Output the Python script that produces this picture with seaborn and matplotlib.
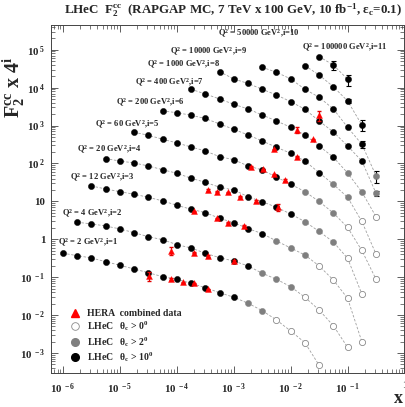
import numpy as np
import pandas as pd
import matplotlib
matplotlib.use("Agg")
import matplotlib.pyplot as plt
import seaborn as sns
from matplotlib.lines import Line2D
from matplotlib.ticker import FixedLocator, LogLocator, NullFormatter, FuncFormatter

sns.set_theme(style="ticks")
plt.rcParams['font.family'] = ['Liberation Serif', 'DejaVu Serif']
plt.rcParams['font.weight'] = 'bold'
plt.rcParams['mathtext.default'] = 'regular'
plt.rcParams['mathtext.fontset'] = 'custom'
plt.rcParams['mathtext.rm'] = 'Liberation Serif:bold'
plt.rcParams['mathtext.bf'] = 'Liberation Serif:bold'
plt.rcParams['mathtext.it'] = 'Liberation Serif:bold:italic'

# ---------------- data ----------------
X_GRID = [1.0e-6, 1.78e-6, 3.16e-6, 5.62e-6, 1.0e-5, 1.78e-5, 3.16e-5, 5.62e-5,
          1.0e-4, 1.78e-4, 3.16e-4, 5.62e-4, 1.0e-3, 1.78e-3, 3.16e-3, 5.62e-3,
          1.0e-2, 1.78e-2, 3.16e-2, 5.62e-2, 0.1, 0.178, 0.316]

Q2 = [2, 4, 12, 20, 60, 200, 400, 1000, 10000, 50000, 100000]
START = [0, 1, 2, 3, 5, 7, 9, 11, 14, 17, 18]      # first x-grid index of each series
N_BLACK = [13, 13, 13, 14, 12, 12, 11, 11, 8, 5, 3]  # theta_c > 10 deg
N_GREY = [2, 3, 3, 3, 3, 2, 2, 1, 1, 0, 0]           # theta_c > 2 deg

F2_1 = [0.428, 0.369, 0.321, 0.256, 0.206, 0.164, 0.131, 0.103, 0.0881, 0.069,
        0.0528, 0.039, 0.0295, 0.0205, 0.0131, 0.00743, 0.0038, 0.00187, 0.000473]
F2_2 = [2.81, 2.54, 2.24, 1.87, 1.49, 1.17, 0.975, 0.721, 0.589, 0.428,
        0.327, 0.267, 0.198, 0.127, 0.0881, 0.0561, 0.0295, 0.0136, 0.00525, 0.00141]
F2_3 = [25.5, 21.2, 18.0, 15.4, 12.8, 10.3, 7.89, 6.19, 5.04, 3.58,
        2.74, 1.91, 1.41, 0.902, 0.589, 0.385, 0.198, 0.0843, 0.0277, 0.00199]
F2_4 = [134, 116, 103, 85.9, 68.5, 55.1, 40.7, 31.9, 23.6, 20.0,
        13.3, 9.82, 6.98, 4.66, 2.91, 1.61, 0.849, 0.315, 0.0361]
F2_5 = [665, 555, 436, 348, 272, 214, 151, 126, 85.9, 67.5,
        43.6, 28.4, 18.0, 9.93, 4.94, 2.05, 0.506, 0.0881]
F2_6 = [2427, 2188, 1871, 1538, 1102, 798, 565, 393, 267, 186,
        116, 57.1, 28.2, 12.8, 2.95, 0.405]
F2_7 = [9078, 6823, 5035, 3648, 2742, 1905, 1321, 902, 565, 290,
        146, 56.1, 17.7, 3.94]
F2_8 = [26400, 17000, 12900, 9080, 6410, 4276, 2692, 1321, 678, 290, 116, 16.4]
F2_9 = [34500, 25500, 17000, 9080, 5585, 2742, 902, 321, 47.6]
F2_10 = [38000, 21600, 10600, 4457, 1038]
F2_11 = [65800, 39700, 16700]
F2_ALL = [F2_1, F2_2, F2_3, F2_4, F2_5, F2_6, F2_7, F2_8, F2_9, F2_10, F2_11]

# LHeC points that carry visible error bars
ERR_Q2 = [100000, 100000, 50000, 50000, 10000, 10000, 1000]
ERR_X = [0.0562, 0.1, 0.1, 0.178, 0.178, 0.316, 0.316]
ERR_VAL = [10000, 5500, 450, 330, 60, 17, 2.6]

# HERA combined data
HERA_X = [3.2e-5, 8e-5, 1.3e-4, 2e-4, 3.5e-4,
          8e-5, 2e-4, 3.5e-4, 1e-3,
          2e-4, 5e-4, 8e-4, 1.5e-3,
          3.5e-4, 5e-4, 8e-4, 1.3e-3, 2.5e-3, 6e-3,
          2e-3, 3.2e-3, 5e-3, 8e-3,
          5e-3, 0.013,
          0.013, 0.025,
          0.032]
HERA_F2 = [0.108, 0.0897, 0.0733, 0.069, 0.048,
           0.5, 0.443, 0.362, 0.267,
           5.48, 3.58, 2.74, 2.3,
           20, 18, 17.4, 13.3, 10.2, 7.0,
           82.4, 70.3, 51.9, 36.7,
           237, 151,
           766, 436,
           1905]
HERA_ERR = [0.027, 0.003, 0.002, 0.002, 0.002,
            0.12, 0.015, 0.012, 0.01,
            0.2, 0.12, 0.1, 0.08,
            0.7, 0.6, 0.6, 0.45, 0.35, 1.3,
            2.7, 2.3, 1.7, 1.2,
            8, 5,
            140, 15,
            570]

# label placement (data coords, left edge)
LABEL_X = [8.2e-7, 9.6e-7, 1.33e-6, 1.76e-6, 3.65e-6, 8.5e-6, 1.84e-5, 2.99e-5,
           7.6e-5, 5.3e-4, 1.58e-2]
LABEL_Y = [0.8, 4.64, 41.4, 227, 1038, 3945, 13300, 39700, 87500, 261000, 111000]

# ---------------- build table ----------------
rows = []
for si, (q, st, nb, ng, vals) in enumerate(zip(Q2, START, N_BLACK, N_GREY, F2_ALL)):
    for j, v in enumerate(vals):
        if j < nb:
            cat = "black"
        elif j < nb + ng:
            cat = "grey"
        else:
            cat = "open"
        rows.append(dict(series=si + 1, Q2=q, x=X_GRID[st + j], F2=v, cat=cat))
df = pd.DataFrame(rows)
hera = pd.DataFrame(dict(x=HERA_X, F2=HERA_F2, err=HERA_ERR))

# ---------------- figure ----------------
fig = plt.figure(figsize=(4.06, 4.07), dpi=100)
ax = fig.add_axes([51 / 406, 34 / 407, 353.5 / 406, 348 / 407])
ax.set_xscale("log")
ax.set_yscale("log")

sns.lineplot(data=df, x="x", y="F2", units="series", estimator=None, sort=True,
             color="#a0a0a0", linestyle=(0, (3, 2)), linewidth=0.6, ax=ax, legend=False)

# error bars of LHeC points
for q, xv, e in zip(ERR_Q2, ERR_X, ERR_VAL):
    sel = df[(df.Q2 == q) & (np.isclose(df.x, xv))]
    for _, r in sel.iterrows():
        ax.errorbar(r.x, r.F2, yerr=min(e, 0.9 * r.F2), fmt="none", ecolor="black",
                    elinewidth=0.8, capsize=1.8, capthick=0.8, zorder=3)

MS = 20
sns.scatterplot(data=df[df.cat == "open"], x="x", y="F2", marker="o", s=MS,
                color="white", edgecolor="#8a8a8a", linewidth=0.6, ax=ax, zorder=4)
sns.scatterplot(data=df[df.cat == "grey"], x="x", y="F2", marker="o", s=MS,
                color="#7f7f7f", edgecolor="#7f7f7f", linewidth=0.3, ax=ax, zorder=4)
sns.scatterplot(data=df[df.cat == "black"], x="x", y="F2", marker="o", s=MS,
                color="black", edgecolor="black", linewidth=0.3, ax=ax, zorder=4)

ax.errorbar(hera.x, hera.F2, yerr=hera.err, fmt="none", ecolor="#e00000",
            elinewidth=0.8, capsize=1.2, zorder=5)
sns.scatterplot(data=hera, x="x", y="F2", marker="^", s=18, color="#ff0000",
                edgecolor="#ff0000", linewidth=0.3, ax=ax, zorder=5)

ax.set_xlim(6.15e-7, 1.0)
ax.set_ylim(2.96e-4, 4.5e5)

# ticks
ax.xaxis.set_major_locator(FixedLocator([1e-6, 1e-5, 1e-4, 1e-3, 1e-2, 1e-1, 1]))
ax.yaxis.set_major_locator(FixedLocator([1e-3, 1e-2, 1e-1, 1, 10, 1e2, 1e3, 1e4, 1e5]))
ax.xaxis.set_minor_locator(LogLocator(base=10, subs=np.arange(2, 10), numticks=20))
ax.yaxis.set_minor_locator(LogLocator(base=10, subs=np.arange(2, 10), numticks=20))
ax.xaxis.set_minor_formatter(NullFormatter())
ax.yaxis.set_minor_formatter(NullFormatter())


def fmt(v, pos):
    e = int(round(np.log10(v)))
    if e == 0:
        return "1"
    if e == 1:
        return "10"
    return r"10$^{\ %d}$" % e


ax.xaxis.set_major_formatter(FuncFormatter(fmt))
ax.yaxis.set_major_formatter(FuncFormatter(fmt))
ax.tick_params(which="both", direction="in", top=True, right=True, color="#444444",
               labelsize=7.8)
ax.tick_params(which="major", length=5, width=0.6)
ax.tick_params(which="minor", length=2.6, width=0.5)
ax.tick_params(axis="x", pad=6)
ax.tick_params(axis="y", pad=4)
for sp in ax.spines.values():
    sp.set_linewidth(0.7)
    sp.set_color("#444444")
ax.set_xlabel("")
ax.set_ylabel("")

# series labels
for i, (q, lx, ly) in enumerate(zip(Q2, LABEL_X, LABEL_Y)):
    ax.text(lx, ly, "Q$^2$ = %d GeV$^2$,i=%d" % (q, i + 1), fontsize=6.1,
            fontweight="bold", ha="left", va="center")

# legend
handles = [
    Line2D([], [], linestyle="none", marker="^", markersize=5.5, color="#ff0000"),
    Line2D([], [], linestyle="none", marker="o", markersize=5.5, markerfacecolor="white",
           markeredgecolor="#8a8a8a", markeredgewidth=0.6),
    Line2D([], [], linestyle="none", marker="o", markersize=5.5, color="#7f7f7f"),
    Line2D([], [], linestyle="none", marker="o", markersize=5.5, color="black"),
]
labels = ["HERA  combined data", r"LHeC   $\theta_c$ > 0$^0$",
          r"LHeC   $\theta_c$ > 2$^0$", r"LHeC   $\theta_c$ > 10$^0$"]
ax.legend(handles, labels, loc="upper left", bbox_to_anchor=(0.04, 0.195),
          frameon=False, fontsize=7, handletextpad=0.6, labelspacing=0.15,
          borderaxespad=0.0, handlelength=1.2, handleheight=0.8)

fig.text(0.575, 0.975, "LHeC  F$_2^{cc}$  (RAPGAP MC, 7 TeV x 100 GeV, 10 fb$^{-1}$, "
         r"$\epsilon_c$=0.1)", ha="center", va="center", fontsize=9.4, fontweight="bold")
fig.text(0.034, 0.71, "F$_2^{cc}$ x 4$^i$", rotation=90, ha="center", va="bottom",
         fontsize=14.5, fontweight="bold")
fig.text(0.982, 0.022, "x", ha="center", va="center", fontsize=13, fontweight="bold")

fig.savefig("out.png", dpi=100)
